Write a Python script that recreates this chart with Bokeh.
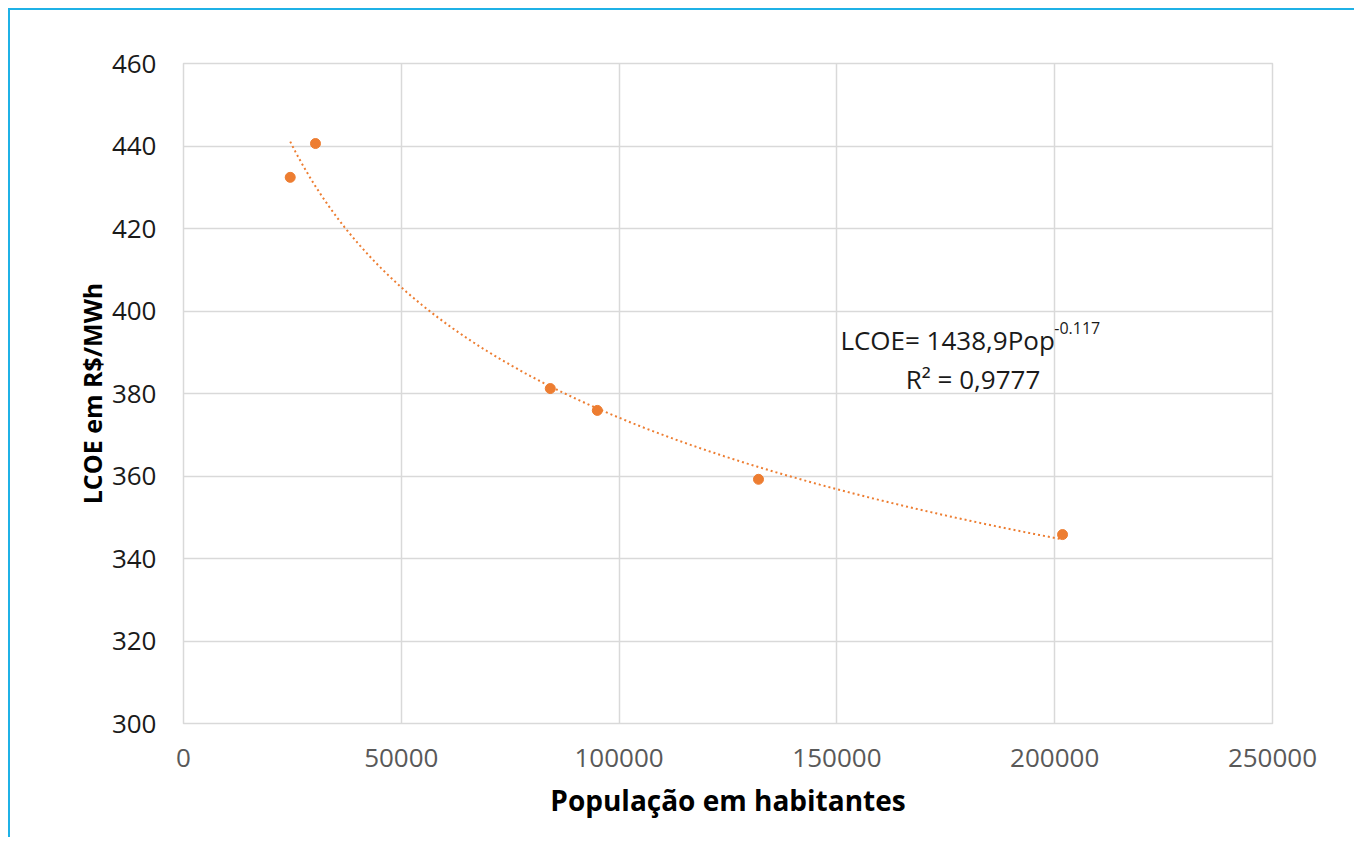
import numpy as np
from bokeh.plotting import figure
from bokeh.models import Range1d, FixedTicker, NumeralTickFormatter, Label, ColumnDataSource
from bokeh.embed import file_html
from bokeh.resources import INLINE

# Data
population = [24500, 30300, 84200, 95000, 132000, 201800]
lcoe = [432.4, 440.6, 381.2, 375.9, 359.2, 345.8]

# Power trendline stated on the chart: LCOE = 1438.9 * Pop^-0.117
coef_a = 1438.9
coef_b = -0.117
r2_text = "R\u00b2 = 0,9777"
eq_text = "LCOE= 1438,9Pop"
exp_text = "-0.117"

x_ticks = [0, 50000, 100000, 150000, 200000, 250000]
y_ticks = [300, 320, 340, 360, 380, 400, 420, 440, 460]

ORANGE = "#ED7D31"
FONT = "Open Sans"

p = figure(width=1346, height=829, output_backend="svg", toolbar_location=None,
           x_range=Range1d(0, 250000), y_range=Range1d(300, 460),
           min_border_left=173, min_border_top=53, min_border_right=84, min_border_bottom=116)
p.styles = {"border-top": "2px solid #1FB1E6", "border-left": "2px solid #1FB1E6",
            "margin-left": "8px", "margin-top": "8px"}

p.background_fill_color = "white"
p.border_fill_color = "white"
p.outline_line_color = "#D9D9D9"
p.outline_line_width = 1.5

p.xgrid.grid_line_color = "#D9D9D9"
p.ygrid.grid_line_color = "#D9D9D9"
p.xgrid.grid_line_width = 1.5
p.ygrid.grid_line_width = 1.5

p.xaxis.ticker = FixedTicker(ticks=x_ticks)
p.yaxis.ticker = FixedTicker(ticks=y_ticks)
p.xaxis.formatter = NumeralTickFormatter(format="0")
p.yaxis.formatter = NumeralTickFormatter(format="0")

for ax in (p.xaxis, p.yaxis):
    ax.axis_line_color = None
    ax.major_tick_line_color = None
    ax.minor_tick_line_color = None
    ax.major_label_text_font = FONT
    ax.major_label_text_font_size = "26px"
    ax.axis_label_text_font = FONT
    ax.axis_label_text_font_style = "bold"
    ax.axis_label_text_color = "black"

p.yaxis.axis_label_text_font_size = "25px"
p.xaxis.axis_label_text_font_size = "28px"
p.yaxis.major_label_text_color = "#1a1a1a"
p.xaxis.major_label_text_color = "#595959"
p.yaxis.major_label_standoff = 21
p.xaxis.major_label_standoff = 19
p.yaxis.axis_label = "LCOE em R$/MWh"
p.xaxis.axis_label = "Popula\u00e7\u00e3o em habitantes"
p.yaxis.axis_label_standoff = 0
p.xaxis.axis_label_standoff = 11

# Trendline across the data range
xt = np.linspace(min(population), max(population), 300)
yt = coef_a * xt ** coef_b
p.line(xt, yt, line_color=ORANGE, line_width=2, line_dash="2 3")

src = ColumnDataSource(dict(x=population, y=lcoe))
p.scatter("x", "y", source=src, size=10, color=ORANGE, line_color=ORANGE)

p.add_layout(Label(x=150800, y=392.85, text=eq_text, text_font=FONT, text_font_size="26px",
                   text_color="#1a1a1a", text_align="left", text_baseline="alphabetic"))
p.add_layout(Label(x=199900, y=395.8, text=exp_text, text_font=FONT, text_font_size="16px",
                   text_color="#1a1a1a", text_align="left", text_baseline="alphabetic"))
p.add_layout(Label(x=165800, y=383.4, text=r2_text, text_font=FONT, text_font_size="26px",
                   text_color="#1a1a1a", text_align="left", text_baseline="alphabetic"))

open("out.html", "w").write(file_html(p, INLINE))
